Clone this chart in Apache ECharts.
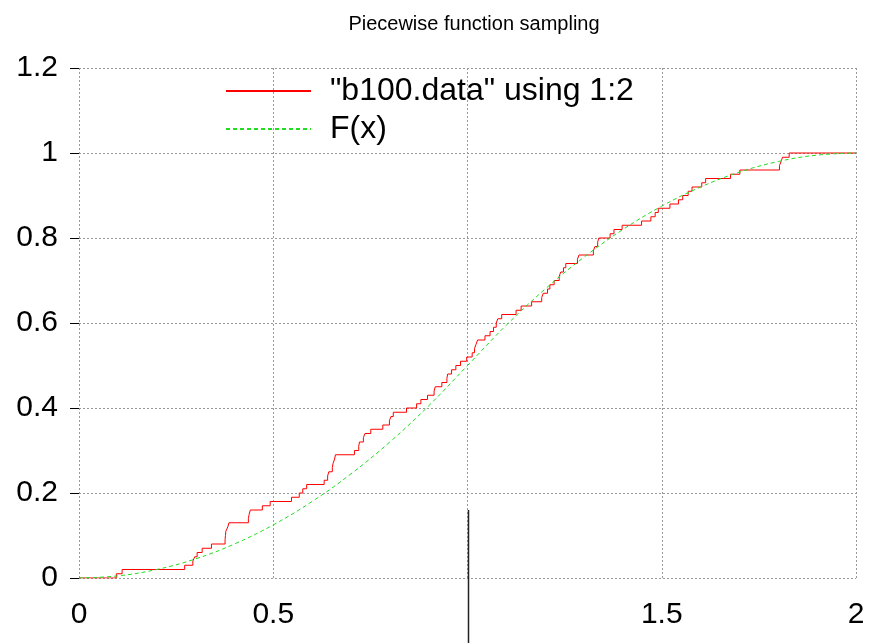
<!DOCTYPE html>
<html>
<head>
<meta charset="utf-8">
<script src="https://cdn.jsdelivr.net/npm/echarts@6/dist/echarts.min.js"></script>
<style>
html,body{margin:0;padding:0;background:#fff;}
#chart{width:874px;height:643px;}
</style>
</head>
<body>
<div id="chart"></div>
<script>
// Empirical step data ("b100.data" using 1:2): jump positions and cumulative levels
const stepX = [0, 0.096, 0.111, 0.272, 0.293, 0.298, 0.304, 0.317, 0.341, 0.376, 0.377, 0.378, 0.383, 0.386,
  0.436, 0.438, 0.441, 0.472, 0.492, 0.547, 0.567, 0.576, 0.586, 0.631, 0.640, 0.643, 0.652, 0.654, 0.658, 0.660,
  0.709, 0.720, 0.722, 0.732, 0.736, 0.751, 0.782, 0.799, 0.803, 0.809, 0.843, 0.869, 0.880, 0.897, 0.914, 0.917,
  0.934, 0.947, 0.949, 0.959, 0.970, 0.982, 0.998, 1.012, 1.018, 1.022, 1.026, 1.045, 1.058, 1.067, 1.074, 1.078,
  1.088, 1.125, 1.138, 1.165, 1.191, 1.195, 1.206, 1.212, 1.223, 1.236, 1.240, 1.247, 1.253, 1.283, 1.287, 1.324,
  1.328, 1.335, 1.338, 1.367, 1.377, 1.398, 1.448, 1.472, 1.483, 1.491, 1.521, 1.543, 1.554, 1.568, 1.578, 1.603,
  1.613, 1.677, 1.701, 1.803, 1.807, 1.811, 1.828, 2.0];
const stepY = [0, 0.01, 0.02, 0.03, 0.04, 0.05, 0.06, 0.07, 0.08, 0.09, 0.10, 0.11, 0.12, 0.13,
  0.14, 0.15, 0.16, 0.17, 0.18, 0.19, 0.20, 0.21, 0.22, 0.23, 0.24, 0.25, 0.26, 0.27, 0.28, 0.29,
  0.30, 0.31, 0.32, 0.33, 0.34, 0.35, 0.36, 0.37, 0.38, 0.39, 0.40, 0.41, 0.42, 0.43, 0.44, 0.45,
  0.46, 0.47, 0.48, 0.49, 0.50, 0.51, 0.52, 0.53, 0.54, 0.55, 0.56, 0.57, 0.58, 0.59, 0.60, 0.61,
  0.62, 0.63, 0.64, 0.65, 0.66, 0.67, 0.68, 0.69, 0.70, 0.71, 0.72, 0.73, 0.74, 0.75, 0.76, 0.77,
  0.78, 0.79, 0.80, 0.81, 0.82, 0.83, 0.84, 0.85, 0.86, 0.87, 0.88, 0.89, 0.90, 0.91, 0.92, 0.93,
  0.94, 0.95, 0.96, 0.97, 0.98, 0.99, 1.00, 1.00];

// F(x) curve, values
const fX = [0, 0.1, 0.2, 0.3, 0.4, 0.5, 0.6, 0.7, 0.8, 0.9, 1.0, 1.1, 1.2, 1.3, 1.4, 1.5, 1.6, 1.7, 1.8, 1.9, 2.0];
const fY = [0, 0.005, 0.02, 0.045, 0.08, 0.125, 0.18, 0.245, 0.32, 0.405, 0.5, 0.595, 0.68, 0.755, 0.82, 0.875, 0.92, 0.955, 0.98, 0.995, 1.0];

const titleText = 'Piecewise function sampling';
const seriesNames = ['"b100.data" using 1:2', 'F(x)'];
const hiddenXLabel = 1;

const FONT = '"Liberation Sans", Arial, sans-serif';
const chart = echarts.init(document.getElementById('chart'));

const option = {
  animation: false,
  backgroundColor: '#fff',
  title: {
    text: titleText,
    left: 469,
    textAlign: 'center',
    top: 9,
    textStyle: {fontFamily: FONT, fontSize: 20, fontWeight: 'normal', color: '#000'}
  },
  legend: {
    left: 225,
    top: 75,
    orient: 'vertical',
    itemWidth: 85,
    itemHeight: 29,
    itemGap: 6,
    padding: 0,
    selectedMode: false,
    data: seriesNames,
    itemStyle: {opacity: 0},
    textStyle: {fontFamily: FONT, fontSize: 32, color: '#000', padding: [0, 0, 0, 14]}
  },
  grid: {left: 79, right: 18, top: 68, bottom: 65, containLabel: false},
  xAxis: {
    type: 'value',
    min: 0, max: 2, interval: 0.5,
    axisLine: {show: false},
    axisTick: {show: false},
    axisLabel: {
      fontFamily: FONT, fontSize: 30, color: '#000', margin: 22,
      formatter: v => (Math.abs(v - hiddenXLabel) < 1e-9 ? '' : String(v))
    },
    splitLine: {show: true, lineStyle: {color: '#999', width: 1, type: [2, 2]}}
  },
  yAxis: {
    type: 'value',
    min: 0, max: 1.2, interval: 0.2,
    axisLine: {show: false},
    axisTick: {show: true, length: 9, lineStyle: {color: '#000', width: 1}},
    axisLabel: {fontFamily: FONT, fontSize: 30, color: '#000', margin: 21,
      formatter: v => String(Math.round(v * 10) / 10)},
    splitLine: {show: true, lineStyle: {color: '#999', width: 1, type: [2, 2]}}
  },
  series: [
    {
      name: seriesNames[0],
      type: 'line',
      step: 'end',
      symbol: 'none',
      data: stepX.map((x, i) => [x, stepY[i]]),
      lineStyle: {color: '#ff0000', width: 1},
      itemStyle: {color: '#ff0000'},
      z: 3
    },
    {
      name: seriesNames[1],
      type: 'line',
      smooth: 0.4,
      symbol: 'none',
      data: fX.map((x, i) => [x, fY[i]]),
      lineStyle: {color: '#22dd22', width: 1, type: [4, 3]},
      itemStyle: {color: '#22dd22'},
      z: 4
    }
  ]
};
chart.setOption(option);

// long vertical mark at x = 1 (below the curve, through the axis to the page bottom)
const markTop = chart.convertToPixel({gridIndex: 0}, [1, 0.16]);
chart.setOption({
  graphic: [{
    type: 'line',
    shape: {x1: Math.round(markTop[0]) + 0.5, y1: markTop[1], x2: Math.round(markTop[0]) + 0.5, y2: 643},
    style: {stroke: '#222', lineWidth: 1.5},
    z: 10
  }]
});
</script>
</body>
</html>
